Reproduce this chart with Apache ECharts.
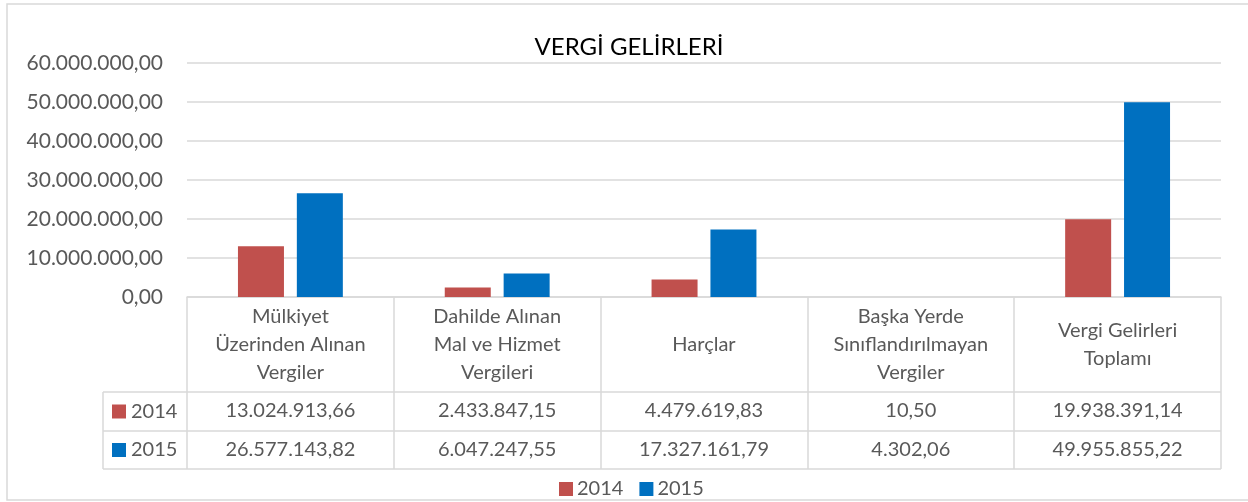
<!DOCTYPE html>
<html>
<head>
<meta charset="utf-8">
<script src="https://cdn.jsdelivr.net/npm/echarts@6/dist/echarts.min.js"></script>
<style>
  html, body { margin: 0; padding: 0; background: #fff; }
  #chart { width: 1248px; height: 502px; }
</style>
</head>
<body>
<div id="chart"></div>
<script>
// veriler
const categories = [
  'Mülkiyet\nÜzerinden Alınan\nVergiler',
  'Dahilde Alınan\nMal ve Hizmet\nVergileri',
  'Harçlar',
  'Başka Yerde\nSınıflandırılmayan\nVergiler',
  'Vergi Gelirleri\nToplamı',
];
const seriesNames = ['2014', '2015'];
const values2014 = [13024913.66, 2433847.15, 4479619.83, 10.5, 19938391.14];
const values2015 = [26577143.82, 6047247.55, 17327161.79, 4302.06, 49955855.22];
const yMin = 0;
const yMax = 60000000;
const yStep = 10000000;

const colors = ['#C0504D', '#0070C0'];
const lineColor = '#D9D9D9';
const textColor = '#595959';
const font = 'Lato';
const fontSize = 20;

// 13024913.66 -> "13.024.913,66"
function fmt(v) {
  const fixed = Number(v).toFixed(2);
  const parts = fixed.split('.');
  const intPart = parts[0].replace(/\B(?=(\d{3})+(?!\d))/g, '.');
  return intPart + ',' + parts[1];
}

// tablo ölçüleri (piksel)
const gridLeft = 187;
const gridRight = 1221;
const axisY = 297;
const row1Top = 392;
const row2Top = 431;
const tableBottom = 469;
const keyLeft = 103;

const chart = echarts.init(document.getElementById('chart'));

const hLines = [row1Top, row2Top, tableBottom].map((y) => ({
  type: 'line',
  shape: { x1: keyLeft, y1: y, x2: gridRight, y2: y },
  style: { stroke: lineColor, lineWidth: 1.5 },
  silent: true,
}));

const keyItems = [];
seriesNames.forEach((name, i) => {
  const top = i === 0 ? row1Top : row2Top;
  const mid = (top + (i === 0 ? row2Top : tableBottom)) / 2;
  keyItems.push({
    type: 'rect',
    shape: { x: 112, y: mid - 7, width: 14, height: 14 },
    style: { fill: colors[i] },
    silent: true,
  });
  keyItems.push({
    type: 'text',
    x: 131,
    y: mid,
    style: {
      text: name,
      fill: textColor,
      font: fontSize + 'px ' + font,
      verticalAlign: 'middle',
    },
    silent: true,
  });
});

const valueAxis = (vals, margin) => ({
  type: 'category',
  data: categories,
  position: 'bottom',
  axisLine: { show: false },
  axisTick: { show: false },
  axisLabel: {
    interval: 0,
    margin: margin,
    verticalAlign: 'middle',
    color: textColor,
    fontFamily: font,
    fontSize: fontSize,
    formatter: (v, idx) => fmt(vals[idx]),
  },
});

const option = {
  backgroundColor: '#fff',
  animation: false,
  color: colors,
  title: {
    text: 'VERGİ GELİRLERİ',
    left: 624,
    top: 30,
    textAlign: 'center',
    textStyle: {
      color: '#000',
      fontFamily: font,
      fontSize: 24,
      fontWeight: 'normal',
    },
  },
  legend: {
    data: seriesNames,
    left: 554,
    top: 474,
    icon: 'rect',
    itemWidth: 14,
    itemHeight: 14,
    itemGap: 16,
    textStyle: { color: textColor, fontFamily: font, fontSize: fontSize, padding: [0, 0, 0, -1] },
  },
  grid: {
    left: gridLeft,
    right: 1248 - gridRight,
    top: 63,
    bottom: 502 - axisY,
    containLabel: false,
  },
  xAxis: [
    {
      type: 'category',
      data: categories,
      position: 'bottom',
      axisLine: { show: true, lineStyle: { color: lineColor, width: 1.5 } },
      axisTick: {
        show: true,
        interval: 0,
        length: tableBottom - axisY,
        lineStyle: { color: lineColor, width: 1.5 },
      },
      axisLabel: {
        interval: 0,
        margin: 48,
        verticalAlign: 'middle',
        lineHeight: 28,
        color: textColor,
        fontFamily: font,
        fontSize: fontSize,
      },
    },
    valueAxis(values2014, 114),
    valueAxis(values2015, 153),
  ],
  yAxis: {
    type: 'value',
    min: yMin,
    max: yMax,
    interval: yStep,
    axisLine: { show: false },
    axisTick: { show: false },
    splitLine: { lineStyle: { color: lineColor, width: 1.5 } },
    axisLabel: {
      margin: 24,
      color: textColor,
      fontFamily: font,
      fontSize: 21,
      formatter: (v) => fmt(v),
    },
  },
  series: [
    {
      name: seriesNames[0],
      type: 'bar',
      xAxisIndex: 0,
      data: values2014,
      barWidth: 46,
      barGap: '28%',
    },
    {
      name: seriesNames[1],
      type: 'bar',
      xAxisIndex: 0,
      data: values2015,
      barWidth: 46,
      barGap: '28%',
    },
  ],
  graphic: [
    {
      type: 'rect',
      shape: { x: 7, y: 4, width: 1260, height: 496 },
      style: { fill: 'none', stroke: lineColor, lineWidth: 1.5 },
      silent: true,
      z: -1,
    },
    {
      type: 'line',
      shape: { x1: keyLeft, y1: row1Top, x2: keyLeft, y2: tableBottom },
      style: { stroke: lineColor, lineWidth: 1.5 },
      silent: true,
    },
  ].concat(hLines, keyItems),
};

chart.setOption(option);
</script>
</body>
</html>
